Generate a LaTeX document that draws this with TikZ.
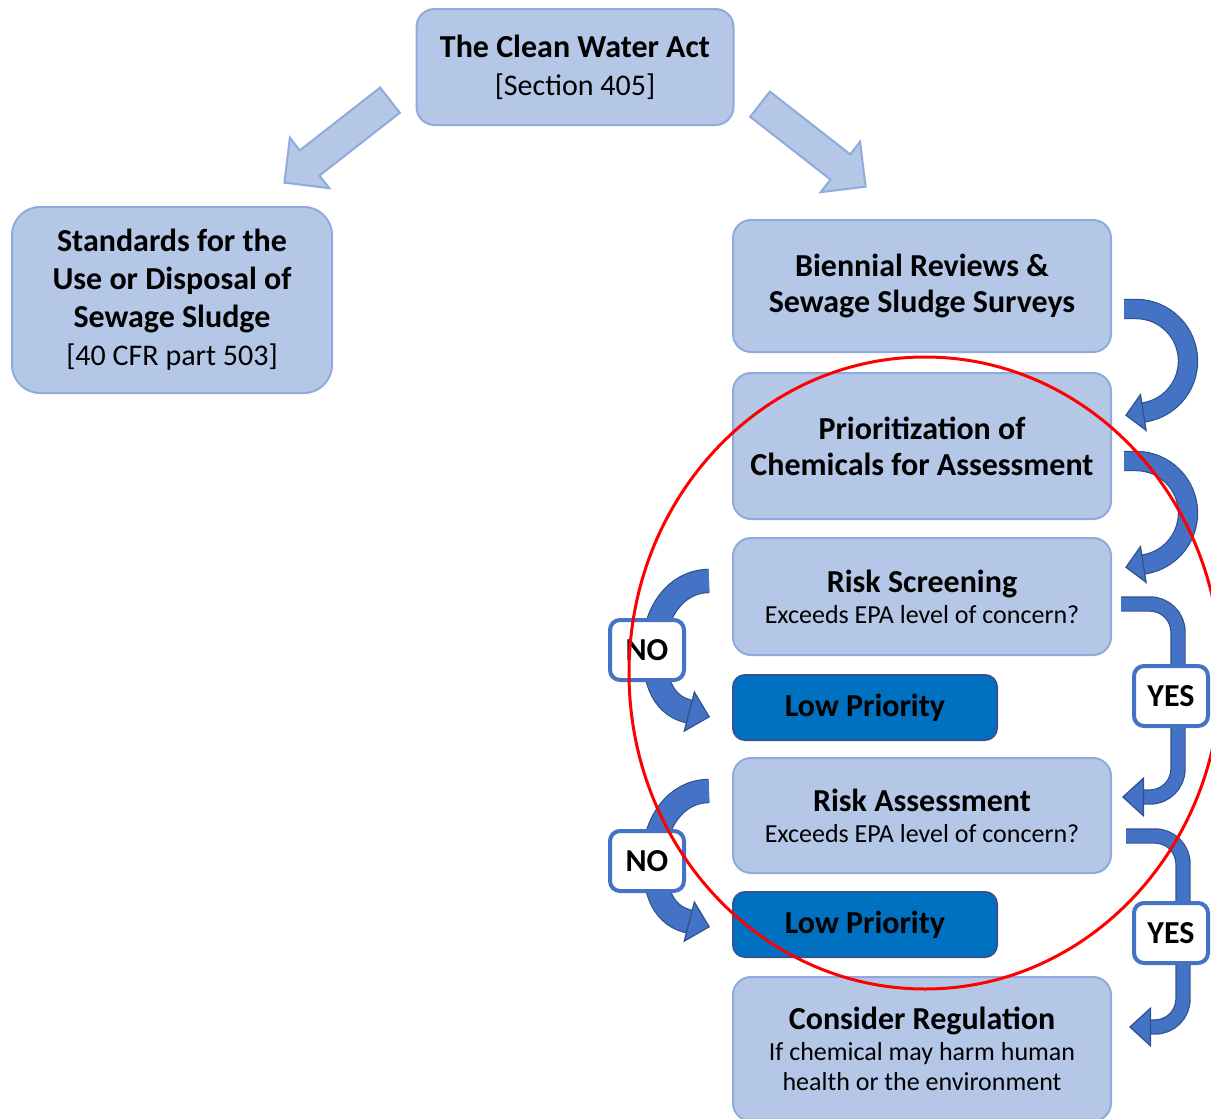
\documentclass[tikz,border=0pt]{standalone}
\usepackage{fontspec}
\setmainfont{Carlito}
\usepackage{tikz}
\usetikzlibrary{
  positioning,
  arrows.meta,
  shapes.arrows
}
\definecolor{BoxBlue}{RGB}{180,199,231}
\definecolor{EdgeBlue}{RGB}{143,170,220}
\definecolor{DeepBlue}{RGB}{0,112,192}
\definecolor{DeepEdge}{RGB}{47,85,151}
\definecolor{FlowBlue}{RGB}{68,114,196}
\definecolor{FlowEdge}{RGB}{47,82,143}

\newcommand{\subline}[1]{{\fontsize{13}{15}\selectfont #1}}
\newcommand{\plainline}[1]{{\fontsize{15}{18}\selectfont #1}}

\begin{document}
\begin{tikzpicture}[
  x=0.5pt, y=0.5pt,
  font=\fontsize{16}{18}\selectfont,
  box/.style={
    draw=EdgeBlue, line width=1pt, fill=BoxBlue,
    rounded corners=9pt, align=center,
    minimum width=189pt, inner sep=3pt,
  },
  lowbox/.style={
    draw=DeepEdge, line width=1pt, fill=DeepBlue,
    rounded corners=6pt, minimum width=132pt, minimum height=32.5pt,
    font=\fontsize{16}{18}\selectfont\bfseries,
  },
  tag/.style={
    draw=FlowBlue, line width=2pt, fill=white, rounded corners=5pt,
    minimum width=37pt, minimum height=30pt,
    font=\fontsize{16}{18}\selectfont\bfseries,
  },
  bigarrow/.style={
    single arrow, draw=EdgeBlue, line width=1pt, fill=BoxBlue,
    single arrow head extend=8pt, inner xsep=0pt, inner ysep=7.5pt,
    minimum height=67pt,
  },
  flow/.style n args={3}{
    FlowBlue, line width=#1,
    -{Triangle[length=#2, width=#3, fill=FlowBlue, color=FlowEdge, line width=0.6pt]},
    preaction={draw=FlowEdge, line width=#1+1.2pt, arrows=-, shorten >=#2-1pt},
  },
]
  \useasboundingbox (0,0) rectangle (1211,-1119);
  \clip (0,0) rectangle (1211,-1119);

  % act and the two branches
  \node[box, minimum width=158.5pt, minimum height=58pt] (cwa) at (575,-67) {%
    \textbf{The Clean Water Act}\\[1pt]\plainline{[Section 405]}};
  \node[box, minimum width=160pt, minimum height=93pt, rounded corners=14pt] (std) at (172,-300) {%
    \textbf{Standards for the}\\[1pt]\textbf{Use or Disposal of}\\[1pt]%
    \textbf{Sewage Sludge}\\[1pt]\plainline{[40 CFR part 503]}};
  \node[bigarrow, rotate=218] (toleft) at (343.5,-136.5) {};
  \node[bigarrow, rotate=-38] (toright) at (806.5,-140.5) {};

  % review column
  \node[box, minimum height=66pt] (bien) at (922,-286) {%
    \textbf{Biennial Reviews \&}\\\textbf{Sewage Sludge Surveys}};
  \node[box, minimum height=73pt, below=9.5pt of bien] (prior) {%
    \textbf{Prioritization of}\\\textbf{Chemicals for Assessment}};
  \node[box, minimum height=58.5pt, below=8.5pt of prior] (screen) {%
    \textbf{Risk Screening}\\[-2.5pt]\subline{Exceeds EPA level of concern?}};
  \node[lowbox, below=9pt of screen.south west, anchor=north west] (low1) {Low Priority};
  \node[box, minimum height=57.5pt, below=8pt of low1.south west, anchor=north west] (assess) {%
    \textbf{Risk Assessment}\\[-2.5pt]\subline{Exceeds EPA level of concern?}};
  \node[lowbox, below=8.5pt of assess.south west, anchor=north west] (low2) {Low Priority};
  \node[box, minimum height=72pt, below=9pt of low2.south west, anchor=north west] (reg) {%
    \textbf{Consider Regulation}\\[-2.5pt]\subline{If chemical may harm human}\\[-3pt]%
    \subline{health or the environment}};

  % turning arrows on the right
  \draw[flow={9pt}{9.5pt}{19.5pt}] ([shift={(12,-23)}]bien.east) -- ++(12,0)
    arc[start angle=90, end angle=-81, radius=52] -- ++(-19,-3);
  \draw[flow={9pt}{9.5pt}{19.5pt}] ([shift={(12,-15)}]prior.east) -- ++(12,0)
    arc[start angle=90, end angle=-81, radius=52] -- ++(-19,-3);

  % NO branches
  \draw[flow={11pt}{11pt}{21.5pt}] ([shift={(-23,15.5)}]screen.west)
    to[out=180, in=90] ++(-55,-67) to[out=-90, in=165] ++(33,-63) -- ++(23,-6);
  \draw[flow={11pt}{11pt}{21.5pt}] ([shift={(-23,24.5)}]assess.west)
    to[out=180, in=90] ++(-55,-67) to[out=-90, in=165] ++(33,-63) -- ++(23,-6);

  % YES branches
  \draw[flow={6.5pt}{11pt}{20pt}, rounded corners=14pt] ([shift={(9,-7.5)}]screen.east)
    -| ++(57,-193) -- ++(-56,0);
  \draw[flow={6.5pt}{11pt}{20pt}, rounded corners=14pt] ([shift={(14,-20.5)}]assess.east)
    -| ++(57,-191) -- ++(-54,0);

  \node[tag] (no1) at (647,-650) {NO};
  \node[tag] (no2) at (647,-861) {NO};
  \node[tag] (yes1) at (1171,-696) {YES};
  \node[tag] (yes2) at (1171,-933) {YES};

  % highlight
  \draw[red, line width=1.5pt] (925,-673) ellipse[x radius=296, y radius=316];
\end{tikzpicture}
\end{document}
